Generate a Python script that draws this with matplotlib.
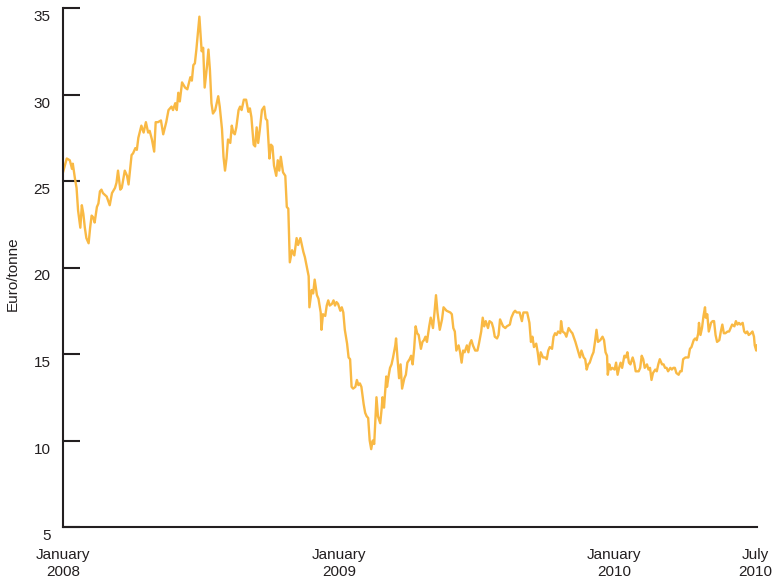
import datetime as dt
import matplotlib
matplotlib.use("Agg")
import matplotlib.pyplot as plt
from matplotlib.transforms import ScaledTranslation

# ---- data: days since 2008-01-01 and price (Euro/tonne) ----
days = [0, 5, 9, 12, 13, 16, 18, 20, 23, 25, 27, 29, 31, 34, 36, 38, 40, 42, 45, 47,
        49, 51, 53, 58, 62, 65, 69, 71, 73, 76, 78, 82, 85, 87, 91, 93, 96, 98, 100, 104,
        107, 110, 113, 115, 118, 121, 123, 126, 130, 133, 137, 140, 144, 146, 149, 151, 153, 155, 158, 162,
        165, 169, 171, 173, 175, 177, 181, 184, 186, 188, 191, 193, 195, 197, 199, 202, 206, 208, 211, 213,
        215, 217, 219, 222, 224, 226, 228, 230, 233, 235, 237, 240, 243, 246, 248, 250, 253, 255, 257, 259,
        261, 264, 267, 269, 271, 274, 276, 278, 280, 283, 285, 287, 289, 292, 295, 297, 299, 301, 304, 307,
        310, 312, 315, 319, 321, 326, 327, 330, 332, 334, 337, 339, 342, 343, 345, 348, 350, 352, 354, 357,
        359, 361, 363, 365, 368, 370, 372, 374, 377, 379, 381, 383, 385, 388, 390, 392, 394, 396, 399, 401,
        403, 405, 407, 409, 411, 413, 416, 418, 421, 423, 424, 426, 429, 430, 432, 434, 436, 438, 441, 442,
        444, 446, 448, 450, 453, 455, 457, 460, 462, 464, 466, 468, 470, 472, 475, 477, 479, 481, 483, 486,
        488, 491, 493, 495, 497, 500, 503, 505, 509, 514, 516, 518, 520, 522, 525, 527, 529, 531, 533, 536,
        538, 540, 542, 544, 547, 550, 552, 555, 557, 559, 561, 564, 566, 569, 571, 573, 576, 578, 580, 582,
        584, 587, 589, 593, 595, 598, 600, 602, 606, 609, 611, 613, 616, 619, 621, 623, 625, 628, 630, 632,
        634, 637, 640, 642, 644, 646, 649, 651, 653, 655, 657, 660, 661, 663, 666, 668, 671, 674, 676, 680,
        682, 684, 686, 688, 691, 693, 695, 697, 699, 702, 704, 706, 708, 710, 713, 716, 718, 720, 722, 723,
        725, 727, 729, 732, 734, 736, 738, 740, 742, 745, 747, 749, 751, 753, 756, 758, 760, 764, 766, 768,
        770, 772, 775, 777, 779, 781, 783, 786, 788, 790, 792, 795, 797, 799, 801, 803, 806, 808, 810, 812,
        814, 817, 819, 821, 823, 826, 828, 830, 832, 834, 837, 839, 841, 843, 844, 846, 848, 850, 852, 853,
        855, 857, 860, 862, 864, 866, 868, 871, 873, 875, 877, 879, 882, 884, 886, 888, 891, 893, 895, 897,
        899, 902, 904, 906, 908, 910, 913, 915, 917, 918, 920, 921]

price = [25.5, 26.3, 26.2, 25.7, 26.0, 25.1, 24.6, 23.3, 22.3, 23.6, 23.1, 22.3, 21.7, 21.4, 22.3, 23.0, 22.9, 22.6, 23.5, 23.7,
         24.4, 24.5, 24.3, 24.1, 23.6, 24.3, 24.6, 24.9, 25.6, 24.5, 24.6, 25.6, 25.3, 24.8, 26.5, 26.6, 26.9, 26.8, 27.5, 28.2,
         27.8, 28.4, 27.8, 27.9, 27.4, 26.7, 28.4, 28.4, 28.5, 27.7, 28.4, 29.1, 29.3, 29.1, 29.5, 29.1, 30.1, 29.6, 30.7, 30.4,
         30.3, 31.0, 30.8, 31.7, 31.8, 32.6, 34.5, 32.5, 32.7, 30.4, 31.6, 32.6, 31.4, 29.5, 28.9, 29.1, 29.9, 29.3, 28.0, 26.4,
         25.6, 26.3, 27.4, 27.2, 28.2, 27.8, 27.7, 28.1, 29.1, 29.3, 29.1, 29.7, 29.7, 29.0, 29.2, 28.7, 27.1, 27.0, 28.1, 27.2,
         27.9, 29.1, 29.3, 28.6, 28.5, 26.3, 27.1, 27.0, 25.9, 25.3, 26.2, 25.6, 26.4, 25.5, 25.3, 23.5, 23.4, 20.3, 21.0, 20.7,
         21.7, 21.3, 21.7, 20.9, 20.6, 19.5, 17.7, 18.7, 18.5, 19.3, 18.4, 18.2, 17.4, 16.4, 17.3, 17.2, 17.8, 18.1, 17.8, 17.9,
         18.1, 17.8, 18.0, 17.9, 17.5, 17.7, 17.4, 16.4, 15.6, 14.8, 14.7, 13.1, 13.0, 13.1, 13.5, 13.2, 13.3, 13.1, 12.1, 11.6,
         11.4, 11.3, 10.0, 9.5, 10.0, 9.8, 12.5, 11.4, 11.0, 11.9, 12.5, 11.9, 13.7, 13.1, 13.7, 14.2, 14.4, 14.8, 15.5, 15.9,
         14.7, 13.6, 14.4, 13.0, 13.6, 13.8, 14.5, 14.7, 14.9, 14.4, 15.3, 16.6, 16.2, 16.1, 15.3, 15.7, 15.8, 16.0, 15.7, 16.6,
         17.1, 16.5, 17.4, 18.4, 17.4, 16.4, 17.0, 17.7, 17.5, 17.4, 17.3, 16.5, 16.3, 15.2, 15.5, 15.1, 14.5, 15.2, 15.1, 15.5,
         15.1, 15.6, 15.8, 15.5, 15.2, 15.2, 15.6, 16.3, 17.1, 16.6, 16.9, 16.5, 16.9, 16.8, 16.5, 16.0, 15.9, 16.1, 17.0, 16.8,
         16.6, 16.5, 16.6, 16.7, 17.1, 17.4, 17.5, 17.4, 17.4, 16.9, 17.4, 17.4, 17.4, 16.8, 15.7, 16.0, 15.4, 15.6, 15.1, 14.4,
         15.1, 14.8, 14.8, 14.7, 15.2, 15.4, 15.3, 16.0, 16.2, 16.1, 16.3, 16.2, 16.9, 16.3, 16.2, 16.0, 16.5, 16.3, 16.2, 15.7,
         15.4, 15.1, 14.8, 15.2, 14.8, 14.7, 14.1, 14.4, 14.5, 14.9, 15.1, 15.7, 16.4, 15.7, 15.8, 16.0, 15.8, 15.1, 14.9, 13.8,
         14.4, 14.1, 14.2, 14.1, 14.5, 13.8, 14.2, 14.5, 14.2, 14.9, 14.8, 15.1, 14.5, 14.4, 14.8, 14.5, 14.0, 14.0, 14.2, 14.9,
         14.7, 14.2, 14.4, 14.1, 14.2, 13.5, 13.9, 14.1, 14.0, 14.4, 14.7, 14.4, 14.4, 14.2, 14.2, 14.0, 14.2, 14.1, 14.2, 14.2,
         13.9, 13.8, 14.0, 14.0, 14.7, 14.8, 14.8, 14.8, 15.3, 15.4, 15.8, 15.9, 15.8, 16.2, 16.8, 16.1, 16.5, 17.2, 17.7, 17.1,
         17.3, 16.3, 16.8, 16.9, 16.9, 16.1, 15.7, 15.8, 16.3, 16.7, 16.2, 16.2, 16.3, 16.3, 16.5, 16.7, 16.6, 16.9, 16.7, 16.8,
         16.7, 16.8, 16.3, 16.2, 16.3, 16.1, 16.2, 16.3, 16.0, 15.5, 15.2, 15.5]

tick_dates = ["2008-01-01", "2009-01-01", "2010-01-01", "2010-07-08"]
tick_labels = ["January\n2008", "January\n2009", "January\n2010", "July\n2010"]
y_ticks = [5, 10, 15, 20, 25, 30, 35]
y_label = "Euro/tonne"

# ---- drawing ----
plt.rcParams['font.family'] = ['Liberation Sans', 'DejaVu Sans']
TXT = "#231f20"
LINE = "#f9b944"
FS = 11

start = dt.date(2008, 1, 1)
dates = [start + dt.timedelta(days=d) for d in days]

fig = plt.figure(figsize=(7.77, 5.82), dpi=100)
ax = fig.add_axes([63 / 777, 1 - 527 / 582, (757 - 63) / 777, (527 - 8) / 582])

ax.plot(dates, price, color=LINE, lw=1.7, solid_joinstyle="round")

ax.set_ylim(5, 35)
ax.set_xlim(dates[0], dates[-1])
ax.set_yticks(y_ticks)
ax.set_yticklabels([str(v) for v in y_ticks])
xt = [dt.datetime.strptime(s, "%Y-%m-%d").date() for s in tick_dates]
ax.set_xticks(xt)
ax.set_xticklabels(tick_labels, linespacing=1.3)

for s in ["top", "right"]:
    ax.spines[s].set_visible(False)
for s in ["left", "bottom"]:
    ax.spines[s].set_color(TXT)
    ax.spines[s].set_linewidth(1.5)

ax.tick_params(axis="y", direction="in", length=12, width=1.5, color=TXT,
               labelsize=FS, labelcolor=TXT, pad=9)
ax.tick_params(axis="x", length=0, labelsize=FS, labelcolor=TXT, pad=15)

off = ScaledTranslation(0, -0.075, fig.dpi_scale_trans)
for lab in ax.get_yticklabels():
    lab.set_transform(lab.get_transform() + off)

fig.text(13 / 777, 1 - 274 / 582, y_label, rotation=90, ha="center", va="center",
         fontsize=FS, color=TXT)

fig.savefig("out.png", dpi=100)
